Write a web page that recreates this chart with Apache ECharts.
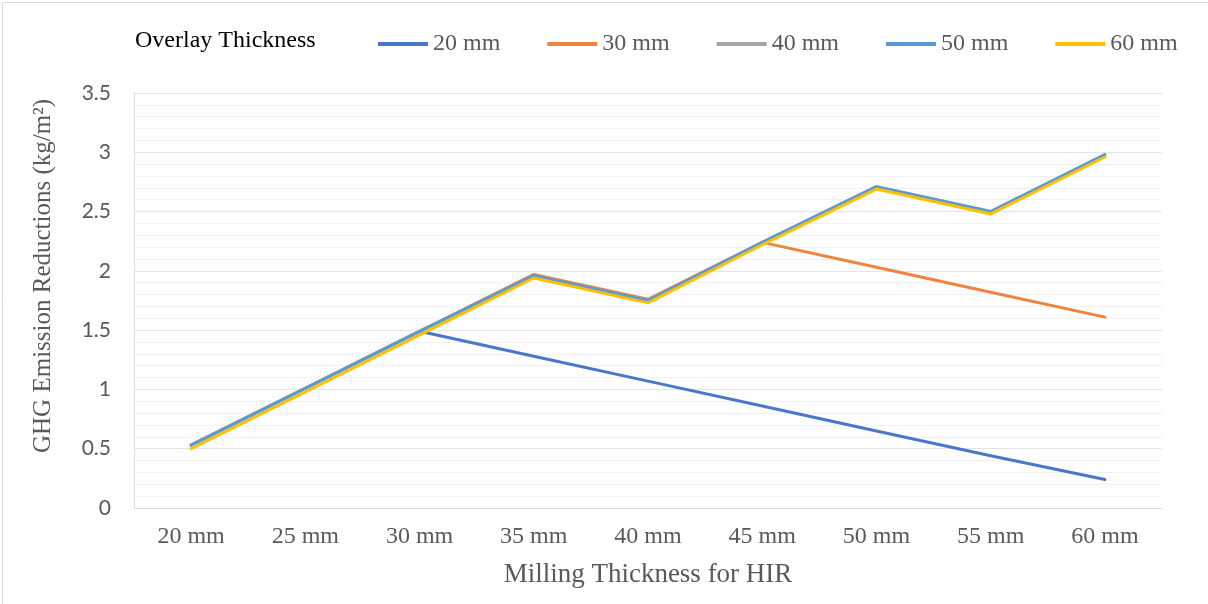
<!DOCTYPE html>
<html>
<head>
<meta charset="utf-8">
<script src="https://cdn.jsdelivr.net/npm/echarts@6/dist/echarts.min.js"></script>
<style>
  html, body { margin: 0; padding: 0; background: #fff; }
  #chart { width: 1208px; height: 604px; }
</style>
</head>
<body>
<div id="chart"></div>
<script>
// Milling thickness for HIR (x axis categories)
const categories = ['20 mm', '25 mm', '30 mm', '35 mm', '40 mm', '45 mm', '50 mm', '55 mm', '60 mm'];

// GHG emission reductions (kg/m²) per overlay thickness
const overlay20 = [0.53, 1.01, 1.49, 1.28, 1.07, 0.86, 0.65, 0.44, 0.24];
const overlay30 = [0.53, 1.01, 1.49, 1.97, 1.76, 2.24, 2.03, 1.82, 1.61];
const overlay40 = [0.53, 1.01, 1.49, 1.96, 1.75, 2.24, 2.71, 2.50, 2.98];
const overlay50 = [0.53, 1.01, 1.49, 1.96, 1.75, 2.24, 2.71, 2.50, 2.98];
const overlay60 = [0.50, 0.98, 1.46, 1.94, 1.73, 2.22, 2.69, 2.48, 2.96];

const seriesNames = ['20 mm', '30 mm', '40 mm', '50 mm', '60 mm'];
const seriesData = [overlay20, overlay30, overlay40, overlay50, overlay60];
const seriesColors = ['#4A77C9', '#EF8441', '#A5A5A5', '#5B9BD5', '#FFC000'];

const serif = '"Liberation Serif", "Times New Roman", serif';
const sans = 'Lato, "Open Sans", sans-serif';

const chart = echarts.init(document.getElementById('chart'), null, { renderer: 'canvas' });

chart.setOption({
  animation: false,
  backgroundColor: '#ffffff',
  graphic: [
    {
      type: 'rect',
      shape: { x: 2.5, y: 2.5, width: 1260, height: 660 },
      style: { fill: 'none', stroke: '#d9d9d9', lineWidth: 1 }
    },
    {
      type: 'text',
      left: 135,
      top: 29,
      style: { text: 'Overlay Thickness', font: '24px ' + serif, fill: '#000000' }
    },
    {
      // value axis title, rotated
      type: 'text',
      x: 43,
      y: 276,
      rotation: Math.PI / 2,
      style: {
        text: 'GHG Emission Reductions (kg/m²)',
        font: '25px ' + serif,
        fill: '#595959',
        align: 'center',
        verticalAlign: 'middle'
      }
    }
  ],
  legend: {
    left: 373,
    top: 27,
    itemWidth: 50,
    itemHeight: 4,
    itemGap: 47,
    icon: 'rect',
    textStyle: { fontFamily: serif, fontSize: 24, color: '#595959' },
    data: seriesNames
  },
  grid: { left: 134, right: 46, top: 93, bottom: 96, containLabel: false },
  xAxis: {
    type: 'category',
    data: categories,
    boundaryGap: true,
    name: 'Milling Thickness for HIR',
    nameLocation: 'middle',
    nameGap: 53,
    nameTextStyle: { fontFamily: serif, fontSize: 27, color: '#595959' },
    axisLine: { show: true, lineStyle: { color: '#d9d9d9', width: 1 } },
    axisTick: { show: false },
    axisLabel: { fontFamily: serif, fontSize: 24, color: '#595959', margin: 17 }
  },
  yAxis: {
    type: 'value',
    min: 0,
    max: 3.5,
    interval: 0.5,
    axisLine: { show: true, lineStyle: { color: '#d9d9d9', width: 1 } },
    axisTick: { show: false },
    axisLabel: { fontFamily: sans, fontSize: 21, color: '#595959', margin: 23 },
    splitLine: { show: true, lineStyle: { color: '#e4e4e4', width: 1 } },
    minorTick: { show: false, splitNumber: 5 },
    minorSplitLine: { show: true, lineStyle: { color: '#f2f2f2', width: 1 } }
  },
  series: seriesNames.map((name, i) => ({
    name: name,
    type: 'line',
    data: seriesData[i],
    symbol: 'none',
    lineStyle: { color: seriesColors[i], width: 3, cap: 'round', join: 'round' },
    itemStyle: { color: seriesColors[i] },
    z: 2 + i
  }))
});
</script>
</body>
</html>
